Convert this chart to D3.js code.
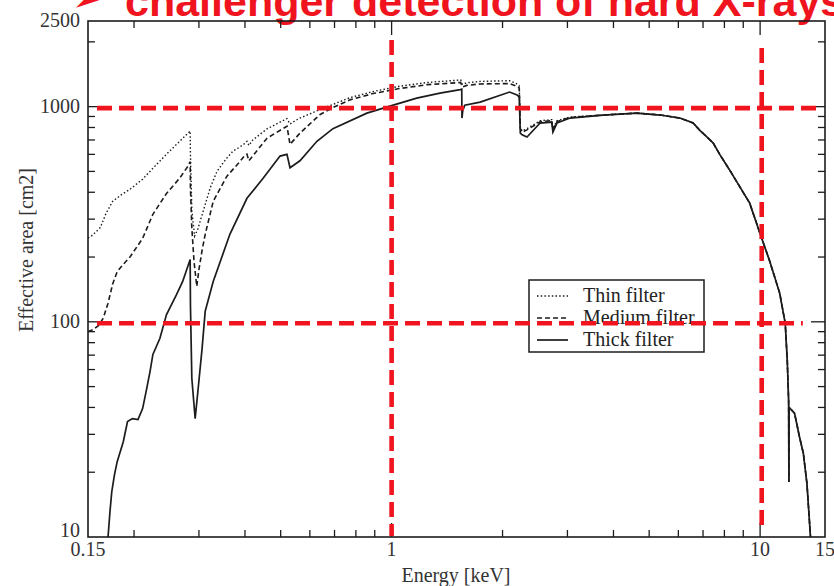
<!DOCTYPE html>
<html>
<head>
<meta charset="utf-8">
<script src="https://cdn.jsdelivr.net/npm/d3@7"></script>
<style>
  html, body { margin: 0; padding: 0; background: #fff; }
  svg { display: block; }
</style>
</head>
<body>
<svg id="chart" width="834" height="586"></svg>
<script>
// ---------------- data ----------------
const titleText = "challenger detection of hard X-rays";
const xLabel = "Energy [keV]";
const yLabel = "Effective area [cm2]";
const xTickLabels = [0.15, 1, 10, 15];
const yTickLabels = [10, 100, 1000, 2500];
const xMajor = [1, 10];
const xMinor = [0.2, 0.3, 0.4, 0.5, 0.6, 0.7, 0.8, 0.9, 2, 3, 4, 5, 6, 7, 8, 9];
const yMajor = [100, 1000];
const yMinor = [20, 30, 40, 50, 60, 70, 80, 90, 200, 300, 400, 500, 600, 700, 800, 900, 2000];
const legendLabels = ["Thin filter", "Medium filter", "Thick filter"];

// common high-energy part (all filters coincide)
const tail = [[3.75, 914], [4.63, 933], [5.36, 914], [6.06, 885], [6.58, 839], [6.85, 778],
  [7.18, 722], [7.46, 677], [7.79, 595], [8.27, 507], [9.37, 356], [9.99, 258], [10.6, 193],
  [11.3, 136], [11.7, 98.5], [11.85, 66], [11.95, 43], [11.97, 18], [11.99, 40], [12.4, 37.6],
  [12.8, 29], [13.1, 24.5], [13.4, 17.7], [13.7, 10]];

const thin = [[0.15, 245], [0.154, 252], [0.162, 274], [0.168, 320], [0.175, 363], [0.185, 390],
  [0.195, 413], [0.211, 460], [0.225, 517], [0.245, 601], [0.266, 690], [0.284, 770],
  [0.2845, 600], [0.287, 330], [0.292, 250], [0.298, 270], [0.308, 326], [0.322, 420],
  [0.336, 501], [0.355, 570], [0.371, 621], [0.388, 650], [0.4, 676], [0.405, 690], [0.41, 660],
  [0.42, 700], [0.46, 790], [0.52, 880], [0.53, 830], [0.56, 880], [0.64, 970], [0.77, 1100],
  [0.89, 1175], [1.04, 1240], [1.25, 1295], [1.54, 1330], [1.555, 1270], [1.6, 1290],
  [1.74, 1310], [2.09, 1320], [2.18, 1280], [2.22, 1250], [2.235, 800], [2.26, 770],
  [2.33, 790], [2.53, 860], [2.72, 870], [2.74, 790], [2.81, 860], [3.05, 895]].concat(tail);

const medium = [[0.15, 90], [0.155, 92], [0.16, 96], [0.165, 104], [0.17, 122], [0.175, 150],
  [0.18, 171], [0.187, 185], [0.195, 200], [0.211, 244], [0.225, 316], [0.245, 395],
  [0.266, 465], [0.28, 528], [0.284, 555], [0.2845, 420], [0.287, 272], [0.291, 190],
  [0.296, 146], [0.3, 175], [0.306, 215], [0.312, 255], [0.328, 363], [0.357, 474],
  [0.388, 557], [0.4, 595], [0.405, 601], [0.41, 560], [0.42, 590], [0.459, 713], [0.52, 811],
  [0.53, 668], [0.564, 753], [0.64, 920], [0.693, 990], [0.771, 1075], [0.89, 1150],
  [1.04, 1210], [1.25, 1265], [1.54, 1295], [1.555, 1235], [1.6, 1255], [1.74, 1275],
  [2.09, 1280], [2.18, 1245], [2.22, 1220], [2.235, 790], [2.26, 760], [2.33, 780],
  [2.53, 850], [2.72, 862], [2.74, 780], [2.81, 852], [3.05, 890]].concat(tail);

const thick = [[0.17, 10], [0.172, 13], [0.174, 16.2], [0.177, 19.5], [0.18, 22.4], [0.187, 27.7],
  [0.192, 34.4], [0.198, 35.5], [0.205, 35.1], [0.211, 39.5], [0.216, 48], [0.221, 58.7],
  [0.225, 70.5], [0.235, 83.6], [0.245, 108], [0.261, 134], [0.271, 154], [0.284, 195],
  [0.2845, 120], [0.287, 54.5], [0.293, 35.5], [0.298, 47.3], [0.306, 75.2], [0.312, 112],
  [0.328, 154], [0.364, 255], [0.405, 375], [0.448, 465], [0.498, 589], [0.52, 600],
  [0.53, 520], [0.564, 560], [0.627, 690], [0.693, 790], [0.857, 933], [1.01, 1016],
  [1.17, 1096], [1.353, 1156], [1.536, 1200], [1.55, 1205], [1.552, 885], [1.56, 960],
  [1.58, 1016], [1.739, 1050], [2.09, 1169], [2.19, 1132], [2.22, 1110], [2.235, 754],
  [2.26, 740], [2.33, 722], [2.53, 839], [2.72, 848], [2.74, 762], [2.81, 839],
  [3.05, 885]].concat(tail);

// red guide lines: [value, extent start, extent end]
const redHorizontal = [[1000, 0.1587, 14.7], [100, 0.1587, 13.06]];
const redVertical = [[1, 2040, 10.1], [10.1, 1873, 11.1]];

// ---------------- drawing ----------------
const svg = d3.select("#chart");
const L = 88, R = 825, T = 21, B = 537;
const x = d3.scaleLog().domain([0.15, 15]).range([L, R]);
const y = d3.scaleLog().domain([10, 2500]).range([B, T]);
const ink = "#1c1c1c";
const serif = "'Liberation Serif', 'Times New Roman', serif";
const fs = 20;

// title (cut at top)
const title = svg.append("text")
  .attr("x", 72).attr("y", 16)
  .attr("fill", "#f0141e")
  .attr("font-family", "'Liberation Sans', Arial, sans-serif")
  .attr("font-weight", "bold").attr("font-size", 43);
title.append("tspan").attr("font-family", "'DejaVu Sans'").attr("font-size", 36).attr("dy", -5).text("➢");
title.append("tspan").attr("x", 125).attr("dy", 5).text(titleText);

// frame
svg.append("rect").attr("x", L).attr("y", T).attr("width", R - L).attr("height", B - T)
  .attr("fill", "none").attr("stroke", ink).attr("stroke-width", 1.6);

const tg = svg.append("g").attr("stroke", ink).attr("stroke-width", 1.3);
function xt(vals, len) {
  vals.forEach(v => {
    tg.append("line").attr("x1", x(v)).attr("x2", x(v)).attr("y1", B).attr("y2", B - len);
    tg.append("line").attr("x1", x(v)).attr("x2", x(v)).attr("y1", T).attr("y2", T + len);
  });
}
function yt(vals, len) {
  vals.forEach(v => {
    tg.append("line").attr("y1", y(v)).attr("y2", y(v)).attr("x1", L).attr("x2", L + len);
    tg.append("line").attr("y1", y(v)).attr("y2", y(v)).attr("x1", R).attr("x2", R - len);
  });
}
xt(xMinor, 7); xt(xMajor, 14); yt(yMinor, 7); yt(yMajor, 14);

// tick labels
svg.append("g").selectAll("text").data(xTickLabels).join("text")
  .attr("x", d => x(d)).attr("y", 556).attr("text-anchor", "middle")
  .attr("font-family", serif).attr("font-size", fs).attr("fill", "#333")
  .text(d => d);
svg.append("g").selectAll("text").data(yTickLabels).join("text")
  .attr("x", 80).attr("y", d => y(d) + (d === 10 ? 0 : 6)).attr("text-anchor", "end")
  .attr("font-family", serif).attr("font-size", fs).attr("fill", "#333")
  .text(d => d);

// axis titles
svg.append("text").attr("x", 456).attr("y", 582).attr("text-anchor", "middle")
  .attr("font-family", serif).attr("font-size", fs).attr("fill", "#333").text(xLabel);
svg.append("text").attr("transform", "translate(33,250) rotate(-90)").attr("text-anchor", "middle")
  .attr("font-family", serif).attr("font-size", fs).attr("fill", "#333").text(yLabel);

// curves
const line = d3.line().x(d => x(d[0])).y(d => y(d[1]));
svg.append("clipPath").attr("id", "clip").append("rect")
  .attr("x", L).attr("y", T).attr("width", R - L).attr("height", B - T);
const cg = svg.append("g").attr("clip-path", "url(#clip)").attr("fill", "none").attr("stroke", ink);
cg.append("path").datum(thick).attr("d", line).attr("stroke-width", 1.7);
cg.append("path").datum(medium).attr("d", line).attr("stroke-width", 1.6).attr("stroke-dasharray", "5,3");
cg.append("path").datum(thin).attr("d", line).attr("stroke-width", 1.4).attr("stroke-dasharray", "1.5,2.2");

// legend
const lg = svg.append("g");
lg.append("rect").attr("x", 529).attr("y", 280).attr("width", 175).attr("height", 72)
  .attr("fill", "#fff").attr("stroke", ink).attr("stroke-width", 1.5);
const styles = [{w: 1.4, d: "1.5,2.2"}, {w: 1.6, d: "5,3"}, {w: 1.7, d: null}];
legendLabels.forEach((lab, i) => {
  const yy = 296 + i * 22;
  lg.append("line").attr("x1", 537).attr("x2", 568).attr("y1", yy).attr("y2", yy)
    .attr("stroke", ink).attr("stroke-width", styles[i].w)
    .attr("stroke-dasharray", styles[i].d);
  lg.append("text").attr("x", 583).attr("y", yy + 6)
    .attr("font-family", serif).attr("font-size", fs).attr("fill", "#222").text(lab);
});

// red dashed guides
const rg = svg.append("g").attr("stroke", "#f0141e").attr("stroke-width", 4.6)
  .attr("stroke-dasharray", "15,7").attr("fill", "none");
redHorizontal.forEach(([v, a, b]) => {
  rg.append("line").attr("x1", x(a)).attr("x2", x(b)).attr("y1", y(v) + 1.5).attr("y2", y(v) + 1.5);
});
redVertical.forEach(([v, a, b]) => {
  rg.append("line").attr("x1", x(v)).attr("x2", x(v)).attr("y1", y(a)).attr("y2", y(b));
});
</script>
</body>
</html>
